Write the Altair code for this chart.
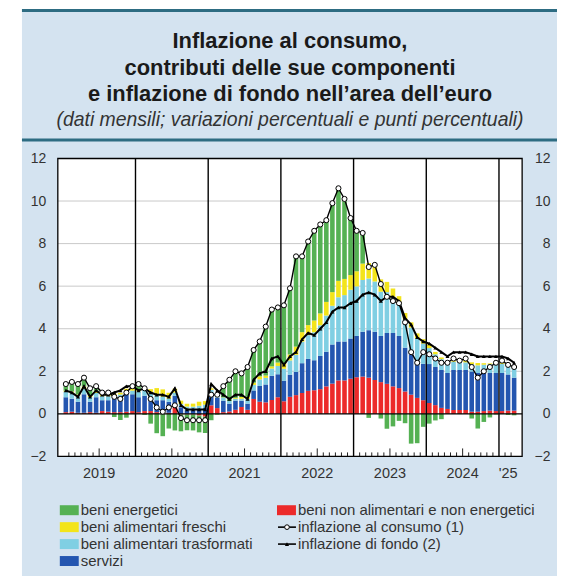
import altair as alt
import pandas as pd

# ---------------- data ----------------
year_labels = ["2019", "2020", "2021", "2022", "2023", "2024", "'25"]
months_in_year = [12, 12, 12, 12, 12, 12, 3]

headline = [1.4, 1.5, 1.4, 1.7, 1.2, 1.3, 1.0, 1.0, 0.8, 0.7, 1.0, 1.3,
            1.4, 1.2, 0.7, 0.3, 0.1, 0.3, 0.4, -0.2, -0.3, -0.3, -0.3, -0.3,
            0.9, 0.9, 1.3, 1.6, 2.0, 1.9, 2.2, 3.0, 3.4, 4.1, 4.9, 5.0,
            5.1, 5.9, 7.4, 7.4, 8.1, 8.6, 8.9, 9.1, 9.9, 10.6, 10.1, 9.2,
            8.6, 8.5, 6.9, 7.0, 6.1, 5.5, 5.3, 5.2, 4.3, 2.9, 2.4, 2.9,
            2.8, 2.6, 2.4, 2.4, 2.6, 2.5, 2.6, 2.2, 1.7, 2.0, 2.2, 2.4,
            2.5, 2.3, 2.2]
core = [1.1, 1.0, 0.8, 1.3, 0.8, 1.1, 0.9, 0.9, 1.0, 1.1, 1.3, 1.3,
        1.1, 1.2, 1.0, 0.9, 0.9, 0.8, 1.2, 0.4, 0.2, 0.2, 0.2, 0.2,
        1.4, 1.1, 0.9, 0.7, 0.9, 0.9, 0.7, 1.6, 1.9, 2.0, 2.6, 2.7,
        2.3, 2.7, 2.9, 3.5, 3.8, 3.7, 4.0, 4.3, 4.8, 5.0, 5.0, 5.2,
        5.3, 5.6, 5.7, 5.6, 5.3, 5.5, 5.5, 5.3, 4.5, 4.2, 3.6, 3.4,
        3.3, 3.1, 2.9, 2.7, 2.9, 2.9, 2.9, 2.8, 2.7, 2.7, 2.7, 2.7,
        2.7, 2.6, 2.4]
non_energy = [0.08, 0.10, 0.05, 0.05, 0.08, 0.05, 0.13, 0.10, 0.08, 0.08, 0.10, 0.13,
              0.08, 0.13, 0.13, 0.08, 0.05, 0.05, 0.42, -0.03, -0.03, -0.03, -0.08, -0.13,
              0.40, 0.27, 0.08, 0.11, 0.19, 0.32, 0.19, 0.70, 0.57, 0.54, 0.65, 0.78,
              0.59, 0.80, 0.88, 0.98, 1.08, 1.11, 1.16, 1.29, 1.42, 1.57, 1.57, 1.65,
              1.72, 1.75, 1.70, 1.59, 1.49, 1.41, 1.29, 1.21, 1.05, 0.90, 0.75, 0.64,
              0.51, 0.41, 0.28, 0.23, 0.18, 0.18, 0.18, 0.10, 0.10, 0.13, 0.15, 0.13,
              0.13, 0.15, 0.15]
services = [0.70, 0.61, 0.52, 0.87, 0.49, 0.73, 0.51, 0.54, 0.63, 0.70, 0.82, 0.79,
            0.70, 0.72, 0.58, 0.56, 0.59, 0.52, 0.43, 0.31, 0.17, 0.17, 0.22, 0.27,
            0.57, 0.49, 0.54, 0.37, 0.43, 0.30, 0.29, 0.40, 0.74, 0.84, 1.14, 1.08,
            0.97, 1.04, 1.09, 1.40, 1.50, 1.41, 1.56, 1.63, 1.84, 1.83, 1.83, 1.89,
            1.94, 2.11, 2.23, 2.27, 2.17, 2.39, 2.51, 2.45, 2.06, 2.00, 1.73, 1.71,
            1.83, 1.79, 1.78, 1.69, 1.88, 1.88, 1.88, 1.89, 1.82, 1.79, 1.77, 1.79,
            1.79, 1.70, 1.55]
processed_food = [0.26, 0.28, 0.28, 0.25, 0.22, 0.20, 0.19, 0.19, 0.15, 0.13, 0.13, 0.17,
                  0.28, 0.30, 0.29, 0.23, 0.17, 0.15, 0.15, 0.15, 0.17, 0.17, 0.16, 0.16,
                  0.16, 0.14, 0.14, 0.12, 0.09, 0.09, 0.22, 0.26, 0.31, 0.31, 0.34, 0.39,
                  0.56, 0.67, 0.80, 1.01, 1.12, 1.31, 1.44, 1.70, 1.82, 2.08, 2.18, 2.29,
                  2.33, 2.43, 2.43, 2.36, 2.08, 1.92, 1.67, 1.52, 1.32, 1.15, 1.07, 0.95,
                  0.75, 0.60, 0.51, 0.42, 0.39, 0.38, 0.36, 0.35, 0.36, 0.39, 0.41, 0.44,
                  0.42, 0.39, 0.44]
fresh_food = [0.05, 0.06, 0.06, 0.12, 0.07, 0.09, 0.11, 0.11, 0.09, 0.08, 0.13, 0.11,
              0.09, 0.10, 0.16, 0.34, 0.34, 0.27, 0.18, 0.16, 0.13, 0.14, 0.19, 0.17,
              0.07, 0.04, 0.01, 0.00, 0.04, 0.08, 0.10, 0.10, 0.14, 0.11, 0.10, 0.16,
              0.26, 0.28, 0.39, 0.45, 0.47, 0.56, 0.56, 0.64, 0.64, 0.77, 0.76, 0.69,
              0.71, 0.77, 0.73, 0.68, 0.58, 0.48, 0.42, 0.35, 0.31, 0.25, 0.23, 0.21,
              0.17, 0.11, 0.08, 0.03, 0.08, 0.07, 0.12, 0.08, 0.11, 0.07, 0.04, 0.07,
              0.09, 0.11, 0.13]
energy = [0.31, 0.45, 0.49, 0.41, 0.34, 0.23, 0.06, 0.06, -0.15, -0.29, -0.18, 0.10,
          0.25, -0.05, -0.46, -0.91, -1.05, -0.69, -0.78, -0.79, -0.74, -0.75, -0.79, -0.77,
          -0.30, -0.04, 0.53, 1.00, 1.25, 1.11, 1.40, 1.54, 1.64, 2.30, 2.67, 2.59,
          2.72, 3.11, 4.24, 3.56, 3.93, 4.21, 4.18, 3.84, 4.18, 4.35, 3.76, 2.68,
          1.90, 1.44, -0.19, 0.10, -0.22, -0.70, -0.59, -0.33, -0.44, -1.40, -1.38, -0.61,
          -0.46, -0.31, -0.25, 0.03, 0.07, -0.01, 0.06, -0.22, -0.69, -0.38, -0.17, -0.03,
          0.07, -0.05, -0.07]

component_names = ["beni non alimentari e non energetici", "servizi",
                   "beni alimentari trasformati", "beni alimentari freschi",
                   "beni energetici"]
component_colors = ["#ec2a2a", "#2456b0", "#80cfe3", "#f3e41a", "#55b153"]
line_names = ["inflazione al consumo (1)", "inflazione di fondo (2)"]
y_ticks = [-2, 0, 2, 4, 6, 8, 10, 12]
grid_values = [2, 4, 6, 8, 10]

title_lines = ["Inflazione al consumo,", "contributi delle sue componenti",
               "e inflazione di fondo nell\u2019area dell\u2019euro"]
subtitle = "(dati mensili; variazioni percentuali e punti percentuali)"

legend_left = ["beni energetici", "beni alimentari freschi",
               "beni alimentari trasformati", "servizi"]
legend_right_bar = ["beni non alimentari e non energetici"]

# ---------------- layout / style ----------------
W, H = 466, 299
FONT = "Liberation Sans"
BOX = "#d4e3f0"
TEAL = "#2d6c82"
TXT = "#333333"
n = sum(months_in_year)

xscale = alt.Scale(domain=[-0.5, n - 0.5], nice=False, zero=False)
def yscale():
    return alt.Scale(domain=[-2, 12], nice=False, zero=False)

one = pd.DataFrame({"a": [0]})

# bars
series = [non_energy, services, processed_food, fresh_food, energy]
rows = []
for k, (name, s) in enumerate(zip(component_names, series)):
    for i, v in enumerate(s):
        rows.append({"i": i, "v": v, "comp": name, "ord": k})
bars_df = pd.DataFrame(rows)
lines_df = pd.DataFrame({"i": list(range(n)), "h": headline, "c": core})

# year boundaries / centers / month ticks
starts = []
acc = 0
for m in months_in_year:
    starts.append(acc)
    acc += m
bound_df = pd.DataFrame({"b": [s - 0.5 for s in starts[1:]]})
center_df = pd.DataFrame({"x": [s + (m - 1) / 2 for s, m in zip(starts, months_in_year)],
                          "t": year_labels})
short_t, tall_t = [], []
for s, m in zip(starts, months_in_year):
    for j in range(1, m):
        (tall_t if j == 6 else short_t).append(s + j - 0.5)
short_df = pd.DataFrame({"x": short_t})
tall_df = pd.DataFrame({"x": tall_t})

axis_common = dict(values=y_ticks, tickSize=0, domain=False, grid=False,
                   labelFontSize=14, labelColor=TXT, labelFont=FONT, title=None,
                   zindex=2)

# ---------------- layers ----------------
bg = alt.Chart(one).mark_rect(color=BOX).encode(
    x=alt.value(-36), x2=alt.value(501), y=alt.value(-150), y2=alt.value(430))
teal1 = alt.Chart(one).mark_rect(color=TEAL).encode(
    x=alt.value(-36), x2=alt.value(501), y=alt.value(-150), y2=alt.value(-147))
teal2 = alt.Chart(one).mark_rect(color=TEAL).encode(
    x=alt.value(-36), x2=alt.value(501), y=alt.value(-20), y2=alt.value(-17))
plotbg = alt.Chart(one).mark_rect(color="white").encode(
    x=alt.value(0), x2=alt.value(W), y=alt.value(0), y2=alt.value(H))

grid = alt.Chart(pd.DataFrame({"v": grid_values})).mark_rule(
    color="#c9c9c9", strokeWidth=1).encode(
    y=alt.Y("v:Q", scale=yscale(), axis=None), x=alt.value(0), x2=alt.value(W))

bars = alt.Chart(bars_df).mark_bar(size=4.6).encode(
    x=alt.X("i:Q", scale=xscale, axis=None),
    y=alt.Y("v:Q", stack="zero", scale=yscale(),
            axis=alt.Axis(orient="left", labelPadding=12, **axis_common)),
    color=alt.Color("comp:N", scale=alt.Scale(domain=component_names,
                                              range=component_colors), legend=None),
    order=alt.Order("ord:Q"),
)

zero = alt.Chart(pd.DataFrame({"v": [0]})).mark_rule(color="black", strokeWidth=1.3).encode(
    y=alt.Y("v:Q", scale=yscale(), axis=None), x=alt.value(0), x2=alt.value(W))

ylines = alt.Chart(bound_df).mark_rule(color="black", strokeWidth=1.4).encode(
    x=alt.X("b:Q", scale=xscale, axis=None), y=alt.value(0), y2=alt.value(H))

sticks = alt.Chart(short_df).mark_rule(color="#222", strokeWidth=1).encode(
    x=alt.X("x:Q", scale=xscale, axis=None), y=alt.value(H), y2=alt.value(H - 4))
tticks = alt.Chart(tall_df).mark_rule(color="#222", strokeWidth=1).encode(
    x=alt.X("x:Q", scale=xscale, axis=None), y=alt.value(H), y2=alt.value(H - 8))

core_line = alt.Chart(lines_df).mark_line(color="black", strokeWidth=2).encode(
    x=alt.X("i:Q", scale=xscale, axis=None),
    y=alt.Y("c:Q", scale=yscale(), axis=None))
core_pts = alt.Chart(lines_df).mark_point(shape="triangle-up", filled=True,
                                          color="black", size=16, opacity=1).encode(
    x=alt.X("i:Q", scale=xscale, axis=None),
    y=alt.Y("c:Q", scale=yscale(), axis=None))

head_line = alt.Chart(lines_df).mark_line(color="black", strokeWidth=1.4).encode(
    x=alt.X("i:Q", scale=xscale, axis=None),
    y=alt.Y("h:Q", scale=yscale(),
            axis=alt.Axis(orient="right", labelPadding=28, labelAlign="right",
                          **axis_common)))
head_pts = alt.Chart(lines_df).mark_point(shape="circle", filled=True, fill="white",
                                          stroke="black", strokeWidth=1, size=26,
                                          opacity=1).encode(
    x=alt.X("i:Q", scale=xscale, axis=None),
    y=alt.Y("h:Q", scale=yscale(), axis=None))

frame = alt.Chart(one).mark_rect(fillOpacity=0, stroke="black", strokeWidth=1.3).encode(
    x=alt.value(0), x2=alt.value(W), y=alt.value(0), y2=alt.value(H))

years = alt.Chart(center_df).mark_text(font=FONT, fontSize=14.5, color=TXT,
                                       baseline="middle").encode(
    x=alt.X("x:Q", scale=xscale, axis=None), y=alt.value(317), text="t:N")

# titles
CX = 233
title_df = pd.DataFrame({"t": title_lines, "py": [-118, -91, -65]})
titles = alt.Chart(title_df).mark_text(font=FONT, fontSize=22, fontWeight="bold",
                                       color="#1a1a1a", baseline="middle").encode(
    x=alt.value(CX), y=alt.Y("py:Q", scale=None), text="t:N")
sub = alt.Chart(pd.DataFrame({"t": [subtitle]})).mark_text(
    font=FONT, fontSize=19.5, fontStyle="italic", color=TXT, baseline="middle").encode(
    x=alt.value(CX), y=alt.value(-39), text="t:N")

# legend
ROW0, DROW = 353, 17
color_of = dict(zip(component_names, component_colors))
sw_rows = []
for r, name in enumerate(legend_left):
    sw_rows.append({"x0": 2, "x1": 21, "yc": ROW0 + r * DROW, "c": color_of[name], "t": name, "tx": 23})
for r, name in enumerate(legend_right_bar):
    sw_rows.append({"x0": 220, "x1": 239, "yc": ROW0 + r * DROW, "c": color_of[name], "t": name, "tx": 241})
sw_df = pd.DataFrame(sw_rows)
sw_df["y0"] = sw_df["yc"] - 5
sw_df["y1"] = sw_df["yc"] + 5
swatches = alt.Chart(sw_df).mark_rect().encode(
    x=alt.X("x0:Q", scale=None), x2="x1:Q",
    y=alt.Y("y0:Q", scale=None), y2="y1:Q",
    color=alt.Color("c:N", scale=None))

ln_df = pd.DataFrame({"t": line_names,
                      "yc": [ROW0 + DROW, ROW0 + 2 * DROW],
                      "x0": [221, 221], "x1": [239, 239], "xm": [230, 230], "tx": [241, 241]})
leg_lines = alt.Chart(ln_df).mark_rule(color="black", strokeWidth=1.6).encode(
    x=alt.X("x0:Q", scale=None), x2="x1:Q", y=alt.Y("yc:Q", scale=None))
leg_circ = alt.Chart(ln_df.iloc[[0]]).mark_point(shape="circle", filled=True, fill="white",
                                                 stroke="black", strokeWidth=1, size=22,
                                                 opacity=1).encode(
    x=alt.X("xm:Q", scale=None), y=alt.Y("yc:Q", scale=None))
leg_tri = alt.Chart(ln_df.iloc[[1]]).mark_point(shape="triangle-up", filled=True,
                                                color="black", size=18, opacity=1).encode(
    x=alt.X("xm:Q", scale=None), y=alt.Y("yc:Q", scale=None))

txt_df = pd.concat([sw_df[["t", "tx", "yc"]], ln_df[["t", "tx", "yc"]]], ignore_index=True)
leg_text = alt.Chart(txt_df).mark_text(font=FONT, fontSize=15, color=TXT, align="left",
                                       baseline="middle").encode(
    x=alt.X("tx:Q", scale=None), y=alt.Y("yc:Q", scale=None), text="t:N")

chart = alt.layer(
    bg, teal1, teal2, plotbg, grid, bars, zero, ylines, sticks, tticks,
    core_line, head_line, core_pts, head_pts, frame, years, titles, sub,
    swatches, leg_lines, leg_circ, leg_tri, leg_text,
).resolve_scale(y="independent").properties(
    width=W, height=H,
    padding={"left": 50, "top": 150, "right": 36, "bottom": 119},
    autosize=alt.AutoSizeParams(type="none"),
).configure_view(stroke=None).configure(background="white")

chart.save("out.html", embed_options={"renderer": "svg", "actions": False})
